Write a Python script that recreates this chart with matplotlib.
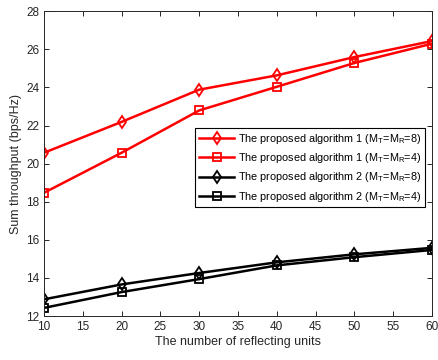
import matplotlib
matplotlib.use("Agg")
import matplotlib.pyplot as plt

plt.rcParams["font.family"] = ["Liberation Sans", "DejaVu Sans"]
plt.rcParams["mathtext.fontset"] = "custom"
plt.rcParams["mathtext.rm"] = "Liberation Sans"
plt.rcParams["mathtext.it"] = "Liberation Sans:italic"

units = [10, 20, 30, 40, 50, 60]
alg1_m8 = [20.57, 22.19, 23.88, 24.63, 25.59, 26.43]
alg1_m4 = [18.47, 20.57, 22.79, 24.03, 25.28, 26.29]
alg2_m8 = [12.88, 13.66, 14.26, 14.82, 15.24, 15.58]
alg2_m4 = [12.43, 13.26, 13.94, 14.66, 15.09, 15.47]

labels = [
    "The proposed algorithm 1 (M$_\\mathrm{T}$=M$_\\mathrm{R}$=8)",
    "The proposed algorithm 1 (M$_\\mathrm{T}$=M$_\\mathrm{R}$=4)",
    "The proposed algorithm 2 (M$_\\mathrm{T}$=M$_\\mathrm{R}$=8)",
    "The proposed algorithm 2 (M$_\\mathrm{T}$=M$_\\mathrm{R}$=4)",
]

fig = plt.figure(figsize=(4.38, 3.6), dpi=100)
ax = fig.add_axes([0.1005, 0.122, 0.8855, 0.847])

# red = algorithm 1, black = algorithm 2
ax.plot(units, alg1_m8, color="#ff0000", marker="d", markersize=6.5, markerfacecolor="none",
        markeredgewidth=1.3, linewidth=1.8, label=labels[0])
ax.plot(units, alg1_m4, color="#ff0000", marker="s", markersize=5.2, markerfacecolor="none",
        markeredgewidth=1.3, linewidth=1.8, label=labels[1])
ax.plot(units, alg2_m8, color="black", marker="d", markersize=6.5, markerfacecolor="none",
        markeredgewidth=1.3, linewidth=1.8, label=labels[2])
ax.plot(units, alg2_m4, color="black", marker="s", markersize=5.2, markerfacecolor="none",
        markeredgewidth=1.3, linewidth=1.8, label=labels[3])

ax.set_xlim(10, 60)
ax.set_ylim(12, 28)
ax.set_xticks(range(10, 61, 5))
ax.set_yticks(range(12, 29, 2))
ax.tick_params(direction="in", top=True, right=True, labelsize=8.5, colors="#262626",
               length=3.5, width=0.7)
for s in ax.spines.values():
    s.set_color("#262626")
    s.set_linewidth(0.7)

ax.set_xlabel("The number of reflecting units", fontsize=9, color="#262626", labelpad=2)
ax.set_ylabel("Sum throughput (bps/Hz)", fontsize=9, color="#262626", labelpad=3)

leg = ax.legend(loc="upper right", bbox_to_anchor=(0.982, 0.616), fontsize=7.8,
                fancybox=False, framealpha=1, edgecolor="black", handlelength=3.3,
                handletextpad=0.3, borderpad=0.35, labelspacing=0.48, borderaxespad=0)
leg.get_frame().set_linewidth(0.8)

fig.savefig("out.png", dpi=100)
